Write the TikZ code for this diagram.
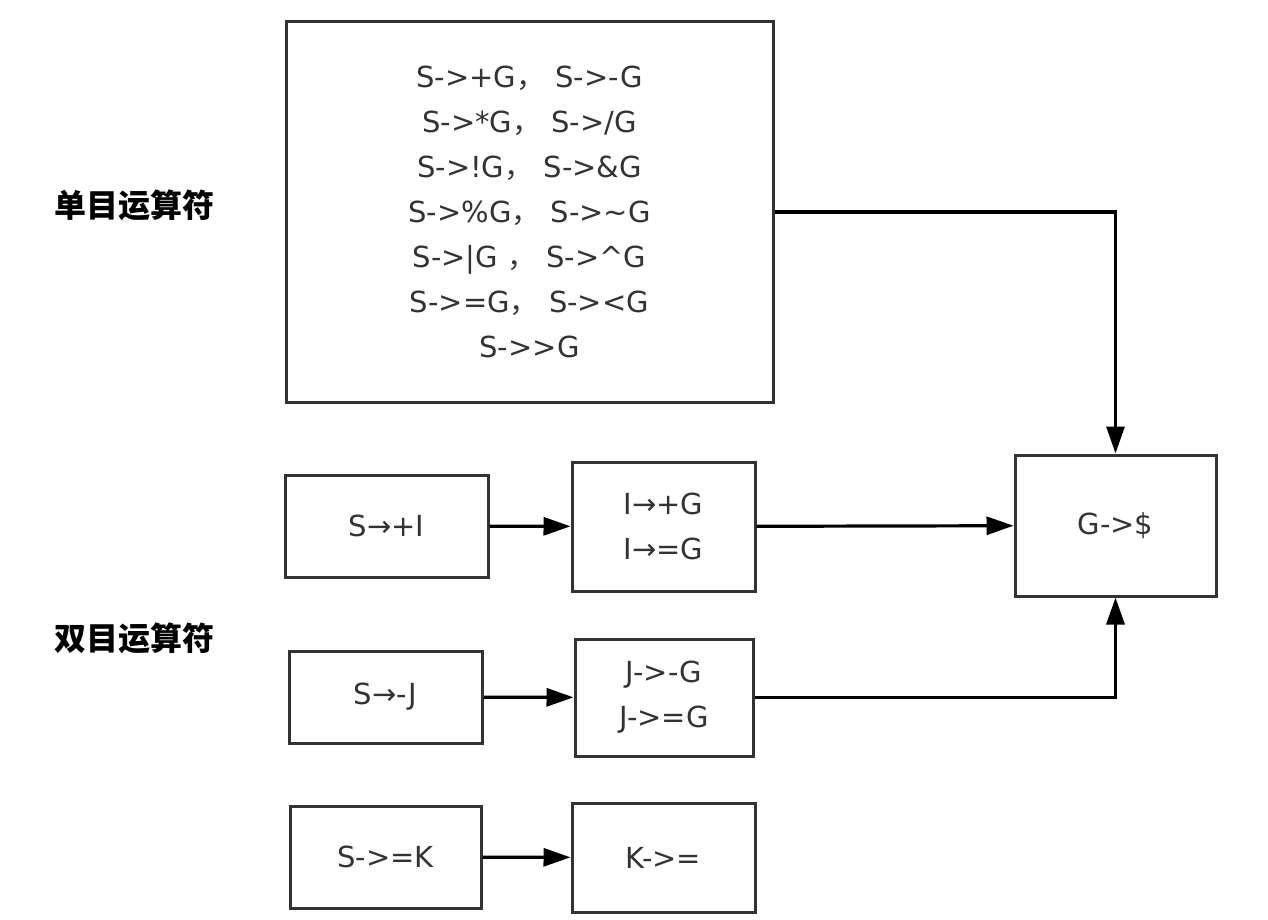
\documentclass[tikz,border=0pt]{standalone}
\usepackage{fontspec}
\setmainfont{DejaVu Sans}
\newfontfamily\cjk{Noto Sans CJK SC}
\usetikzlibrary{arrows.meta}
\definecolor{bd}{HTML}{333333}
\newcommand{\cm}{{\cjk ，}\hspace{0.35em}}
\begin{document}
\begin{tikzpicture}[x=1pt,y=-1pt,
  box/.style={draw=bd, line width=3pt, inner sep=0pt, text=bd, align=center,
    font=\fontsize{29}{45}\selectfont},
  conn/.style={line width=3.2pt, draw=black, -{Triangle[length=27pt,width=18pt]}},
  lbl/.style={font=\cjk\bfseries\fontsize{32}{36}\selectfont, text=black}]
\useasboundingbox (0,0) rectangle (1268,920);
\node[box, minimum width=487pt, minimum height=380pt] (big) at (529.5,212)
  {S->+G\cm S->-G\\ S->*G\cm S->/G\\ S->!G\cm S->\&G\\ S->\%G\cm S->\textasciitilde G\\
   S->|G \cm S->\textasciicircum G\\ S->=G\cm S-><G\\ S->{}>G};
\node[box, minimum width=203pt, minimum height=102pt] (sI) at (386.5,526) {S→+I};
\node[box, minimum width=183pt, minimum height=129pt] (IB) at (663.5,526.5) {I→+G\\I→=G};
\node[box, minimum width=201pt, minimum height=141pt] (G) at (1115.5,525.5) {G->\$};
\node[box, minimum width=193pt, minimum height=92pt] (sJ) at (385.5,697) {S→-J};
\node[box, minimum width=178pt, minimum height=117pt] (JB) at (664,697.5) {J->-G\\ J->=G};
\node[box, minimum width=191pt, minimum height=102pt] (sK) at (385.5,857) {S->=K};
\node[box, minimum width=183pt, minimum height=109pt] (KB) at (663.5,857.5) {K->=};
\node[lbl] (l1) at (134,205) {单目运算符};
\node[lbl] (l2) at (134,638) {双目运算符};
\draw[conn] (big.east) -| (G.north);
\draw[conn] (sI) -- (IB);
\draw[conn] (IB) -- (G);
\draw[conn] (sJ) -- (JB);
\draw[conn] (JB.east) -| (G.south);
\draw[conn] (sK) -- (KB);
\end{tikzpicture}
\end{document}
